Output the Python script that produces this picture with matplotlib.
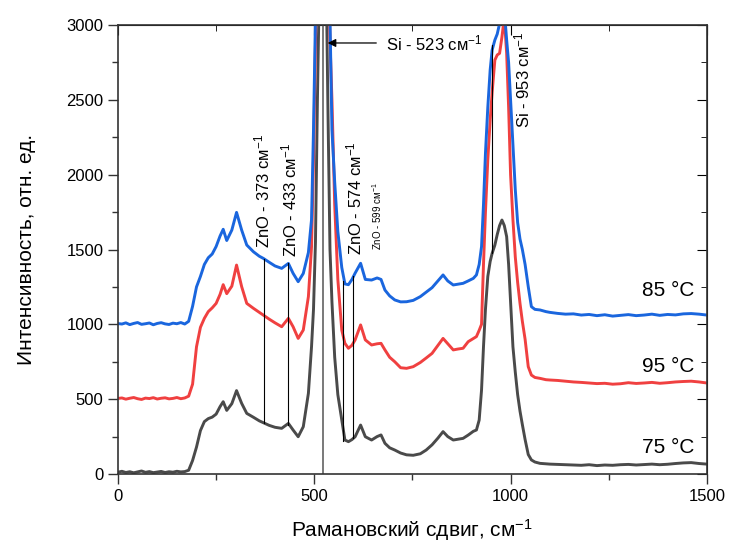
import matplotlib
matplotlib.use("Agg")
import matplotlib.pyplot as plt
from matplotlib.ticker import MultipleLocator

plt.rcParams["font.family"] = ["Liberation Sans", "DejaVu Sans"]
plt.rcParams["mathtext.fontset"] = "custom"
plt.rcParams["mathtext.rm"] = "Liberation Sans"
plt.rcParams["mathtext.it"] = "Liberation Sans"
plt.rcParams["mathtext.bf"] = "Liberation Sans"

# Raman shift grid (cm-1), shared by the three spectra
shift = [0, 10, 20, 30, 40, 50, 60, 70, 80, 90, 100, 110, 120, 130, 140, 150, 160, 170,
         180, 190, 200, 210, 220, 230, 240, 250, 260, 268, 277, 290, 302, 315, 328, 345,
         360, 370, 385, 400, 417, 434, 446, 459, 472, 485, 493, 498, 503, 508, 515, 523,
         530, 535, 540, 545, 552, 560, 570, 578, 587, 596, 604, 618, 630, 646, 660, 670,
         680, 692, 705, 720, 735, 752, 770, 785, 800, 815, 828, 840, 854, 866, 879, 892,
         905, 913, 920, 926, 931, 936, 942, 948, 953, 960, 966, 972, 978, 984, 990, 995,
         1000, 1006, 1012, 1018, 1024, 1030, 1037, 1045, 1053, 1062, 1075, 1090,
         1100, 1120, 1140, 1160, 1180, 1200, 1220, 1240, 1260, 1280, 1300, 1320, 1340,
         1360, 1380, 1400, 1420, 1440, 1460, 1480, 1500]

# 85 °C (blue)
i_85 = [1005, 1002, 1010, 998, 1006, 1012, 1000, 1004, 1009, 997, 1006, 1011, 1003, 999, 1008, 1004, 1012, 1002,
        1020, 1120, 1250, 1320, 1400, 1445, 1470, 1520, 1590, 1635, 1560, 1630, 1748, 1630, 1530, 1485,
        1455, 1441, 1415, 1390, 1374, 1407, 1341, 1285, 1340, 1480, 1700, 2300, 3050, 3800, 4600, 5200,
        4600, 3900, 3050, 2300, 1950, 1620, 1380, 1270, 1265, 1300, 1342, 1408, 1300, 1296, 1310, 1300,
        1229, 1190, 1163, 1150, 1151, 1160, 1185, 1215, 1245, 1290, 1330, 1290, 1263, 1268, 1274, 1290,
        1307, 1330, 1400, 1519, 1800, 2143, 2450, 2700, 2833, 2900, 2940, 3010, 3150, 3100, 2900, 2750,
        2500, 2200, 1900, 1680, 1570, 1500, 1400, 1252, 1118, 1100, 1096, 1085,
        1080, 1073, 1068, 1070, 1062, 1066, 1058, 1064, 1055, 1060, 1065, 1058, 1062,
        1068, 1060, 1066, 1063, 1070, 1072, 1068, 1062]

# 95 °C (red)
i_95 = [505, 508, 500, 506, 511, 503, 498, 507, 504, 510, 501, 506, 509, 502, 505, 511, 503, 508,
        520, 600, 850, 980, 1040, 1085, 1110, 1140, 1200, 1265, 1205, 1255, 1396, 1252, 1140, 1107,
        1080, 1062, 1035, 1010, 984, 1040, 984, 906, 962, 1185, 1519, 2100, 2900, 3600, 4400, 5000,
        4400, 3500, 2900, 2500, 1800, 1300, 962, 873, 840, 860, 896, 996, 896, 862, 870, 873,
        829, 780, 750, 710, 706, 717, 745, 775, 806, 860, 906, 870, 829, 835, 840, 884,
        905, 918, 960, 1000, 1400, 1750, 2100, 2365, 2550, 2766, 2800, 2811, 2920, 3050, 2811, 2450,
        2000, 1700, 1450, 1280, 1140, 1020, 900, 717, 661, 645, 639, 630,
        628, 625, 620, 615, 612, 608, 604, 606, 600, 603, 610, 605, 608,
        612, 606, 610, 615, 618, 620, 615, 608]

# 75 °C (grey)
i_75 = [12, 18, 10, 15, 8, 14, 20, 11, 16, 9, 13, 17, 10, 15, 12, 18, 14, 16,
        25, 90, 180, 290, 350, 370, 380, 400, 450, 483, 425, 470, 557, 472, 405, 379,
        355, 343, 325, 312, 305, 338, 294, 249, 316, 539, 851, 1100, 1550, 2500, 3600, 4200,
        3400, 2400, 1500, 1150, 780, 530, 361, 227, 216, 230, 249, 327, 249, 227, 250, 261,
        205, 175, 160, 140, 128, 125, 135, 160, 195, 240, 283, 250, 227, 232, 238, 260,
        285, 294, 360, 560, 850, 1100, 1320, 1420, 1474, 1530, 1600, 1660, 1697, 1660, 1586, 1400,
        1150, 850, 680, 530, 420, 330, 230, 130, 94, 80, 71, 68,
        66, 64, 62, 60, 58, 62, 56, 60, 58, 62, 64, 60, 63,
        66, 62, 65, 70, 74, 76, 70, 66]

# peak markers: position, line bottom, line top
zno_peaks = [373, 433, 574, 599]
zno_low = [340, 330, 220, 240]
zno_high = [1435, 1407, 1290, 1320]
si_peak_2 = 953
si_2_low, si_2_high = 1474, 2866

blue = "#1a66de"
red = "#f04040"
grey = "#4a4a4a"

fig = plt.figure(figsize=(7.31, 5.44), dpi=100)
ax = fig.add_axes([0.1614, 0.1287, 0.8056, 0.8253])

ax.plot(shift, i_75, color=grey, lw=2.1)
ax.plot(shift, i_95, color=red, lw=2.1)
ax.plot(shift, i_85, color=blue, lw=2.1)

# marker lines
ax.axvline(523, color="#555555", lw=1.1)
for p, lo, hi in zip(zno_peaks, zno_low, zno_high):
    ax.plot([p, p], [lo, hi], color="black", lw=0.8)
ax.plot([si_peak_2, si_peak_2], [si_2_low, si_2_high], color="black", lw=0.8)

sup = "$^{-1}$"
ax.text(367, 1510, "ZnO - 373 см" + sup, rotation=90, ha="center", va="bottom", fontsize=12)
ax.text(438, 1450, "ZnO - 433 см" + sup, rotation=90, ha="center", va="bottom", fontsize=12)
ax.text(603, 1460, "ZnO - 574 см" + sup, rotation=90, ha="center", va="bottom", fontsize=12)
ax.text(660, 1495, "ZnO - 599 см" + sup, rotation=90, ha="center", va="bottom", fontsize=7)
ax.text(1029, 2310, "Si - 953 см" + sup, rotation=90, ha="center", va="bottom", fontsize=12)

ax.annotate("", xy=(527, 2880), xytext=(665, 2880),
            arrowprops=dict(arrowstyle="-|>", color="black", lw=0.9, mutation_scale=12))
ax.text(683, 2880, "Si - 523 см" + sup, ha="left", va="center", fontsize=12)

ax.text(1469, 1229, "85 °C", ha="right", va="center", fontsize=15)
ax.text(1469, 715, "95 °C", ha="right", va="center", fontsize=15)
ax.text(1469, 180, "75 °C", ha="right", va="center", fontsize=15)

ax.set_xlim(0, 1500)
ax.set_ylim(0, 3000)
ax.xaxis.set_major_locator(MultipleLocator(500))
ax.xaxis.set_minor_locator(MultipleLocator(250))
ax.yaxis.set_major_locator(MultipleLocator(500))
ax.yaxis.set_minor_locator(MultipleLocator(250))
ax.tick_params(which="both", labelsize=12, width=1.0, color="#333333")
ax.tick_params(which="major", length=7)
ax.tick_params(which="minor", length=4)

# top and right ticks point inward, without labels
tx = ax.secondary_xaxis("top")
tx.xaxis.set_major_locator(MultipleLocator(500))
tx.xaxis.set_minor_locator(MultipleLocator(250))
tx.tick_params(which="both", direction="in", labeltop=False)
tx.tick_params(which="major", length=7)
tx.tick_params(which="minor", length=4)
ty = ax.secondary_yaxis("right")
ty.yaxis.set_major_locator(MultipleLocator(500))
ty.yaxis.set_minor_locator(MultipleLocator(250))
ty.tick_params(which="both", direction="in", labelright=False)
ty.tick_params(which="major", length=7)
ty.tick_params(which="minor", length=4)

for s in ax.spines.values():
    s.set_linewidth(1.2)
    s.set_color("#333333")

ax.set_xlabel("Рамановский сдвиг, см" + sup, fontsize=15, labelpad=10)
ax.set_ylabel("Интенсивность, отн. ед.", fontsize=15, labelpad=22)

fig.savefig("out.png", dpi=100)
